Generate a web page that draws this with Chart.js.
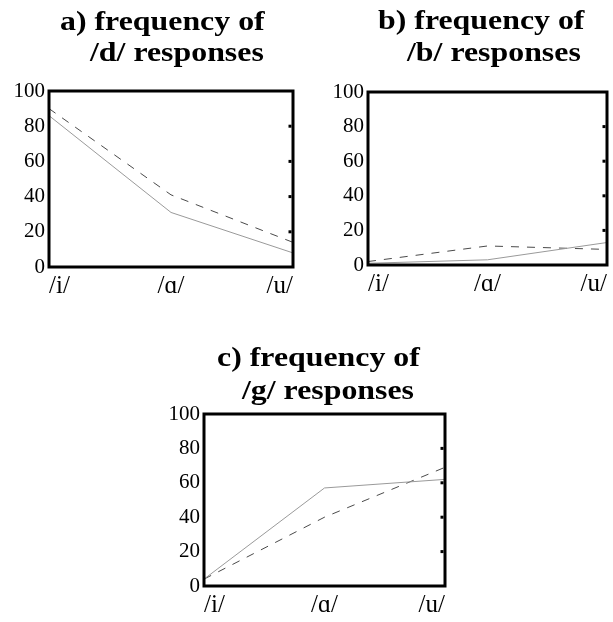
<!DOCTYPE html>
<html>
<head>
<meta charset="utf-8">
<script src="https://cdn.jsdelivr.net/npm/chart.js@4.4.1/dist/chart.umd.min.js"></script>
<style>
  body { margin: 0; background: #fff; }
  #wrap { position: relative; width: 613px; height: 622px; overflow: hidden; }
  canvas { position: absolute; }
</style>
</head>
<body>
<div id="wrap">
  <canvas id="chartD" width="306" height="300" style="left:0;top:0"></canvas>
  <canvas id="chartB" width="307" height="300" style="left:306px;top:0"></canvas>
  <canvas id="chartG" width="320" height="312" style="left:150px;top:310px"></canvas>
</div>
<script>
const vowels = ["/i/", "/ɑ/", "/u/"];
const yTicks = [0, 20, 40, 60, 80, 100];

// /d/ responses
const dSolid = [86, 31, 8];
const dDashed = [90, 41, 14];
// /b/ responses
const bSolid = [1, 3, 13];
const bDashed = [2, 11, 9];
// /g/ responses
const gSolid = [4, 57, 62];
const gDashed = [4, 40, 69];

const titleD = ["a) frequency of", "/d/ responses"];
const titleB = ["b) frequency of", "/b/ responses"];
const titleG = ["c) frequency of", "/g/ responses"];

const SERIF = "'Liberation Serif', 'Times New Roman', serif";
Chart.defaults.font.family = SERIF;
Chart.defaults.color = "#000";

// box around the plot, small inward ticks on the right side, and the two-line title
const panelFrame = {
  id: "panelFrame",
  afterDatasetsDraw(chart) {
    const { ctx, chartArea: a } = chart;
    const y = chart.scales.y;
    ctx.save();
    ctx.strokeStyle = "#000";
    ctx.lineWidth = 3;
    ctx.strokeRect(a.left, a.top, a.right - a.left, a.bottom - a.top);
    yTicks.slice(1, -1).forEach(v => {
      const py = y.getPixelForValue(v);
      ctx.beginPath();
      ctx.moveTo(a.right - 1.5, py);
      ctx.lineTo(a.right - 4.5, py);
      ctx.stroke();
    });
    ctx.restore();
  },
  afterDraw(chart, args, opts) {
    const { ctx, chartArea: a } = chart;
    ctx.save();
    ctx.font = "bold 27px " + SERIF;
    ctx.fillStyle = "#000";
    ctx.textBaseline = "alphabetic";
    opts.lines.forEach((line, i) => {
      ctx.save();
      ctx.translate(a.left + opts.dx[i], a.top + opts.dy[i]);
      ctx.scale(1.18, 1);
      ctx.fillText(line, 0, 0);
      ctx.restore();
    });
    ctx.restore();
  }
};

function makePanel(id, title, solid, dashed, box) {
  return new Chart(document.getElementById(id), {
    type: "line",
    data: {
      labels: vowels,
      datasets: [
        { data: solid, borderColor: "#9a9a9a", borderWidth: 1, pointRadius: 0, tension: 0 },
        { data: dashed, borderColor: "#4a4a4a", borderWidth: 1, borderDash: [8, 8], pointRadius: 0, tension: 0 }
      ]
    },
    options: {
      responsive: false,
      animation: false,
      layout: { padding: { top: box.top, right: box.right, bottom: 0, left: 0 } },
      plugins: {
        legend: { display: false },
        tooltip: { enabled: false },
        panelFrame: { lines: title, dx: box.titleX, dy: box.titleY }
      },
      scales: {
        x: {
          offset: false,
          grid: { display: false, drawTicks: false },
          border: { display: false },
          ticks: { font: { size: 25 }, padding: 4, align: "inner", maxRotation: 0, autoSkip: false },
          afterFit(s) { s.height = box.xHeight; s.paddingLeft = 0; s.paddingRight = 0; }
        },
        y: {
          min: 0,
          max: 100,
          afterBuildTicks(s) { s.ticks = yTicks.map(v => ({ value: v })); },
          grid: { display: false, drawTicks: false },
          border: { display: false },
          ticks: { font: { size: 21 }, padding: 4 },
          afterFit(s) { s.width = box.yWidth; s.paddingTop = 0; s.paddingBottom = 0; }
        }
      }
    },
    plugins: [panelFrame]
  });
}

makePanel("chartD", titleD, dSolid, dDashed,
  { top: 91, right: 13, yWidth: 49, xHeight: 33, titleX: [11, 41], titleY: [-61, -30] });
makePanel("chartB", titleB, bSolid, bDashed,
  { top: 92, right: 6, yWidth: 62, xHeight: 35, titleX: [10, 39], titleY: [-63, -31] });
makePanel("chartG", titleG, gSolid, gDashed,
  { top: 104, right: 25, yWidth: 54, xHeight: 36, titleX: [13, 38], titleY: [-48, -15] });
</script>
</body>
</html>
